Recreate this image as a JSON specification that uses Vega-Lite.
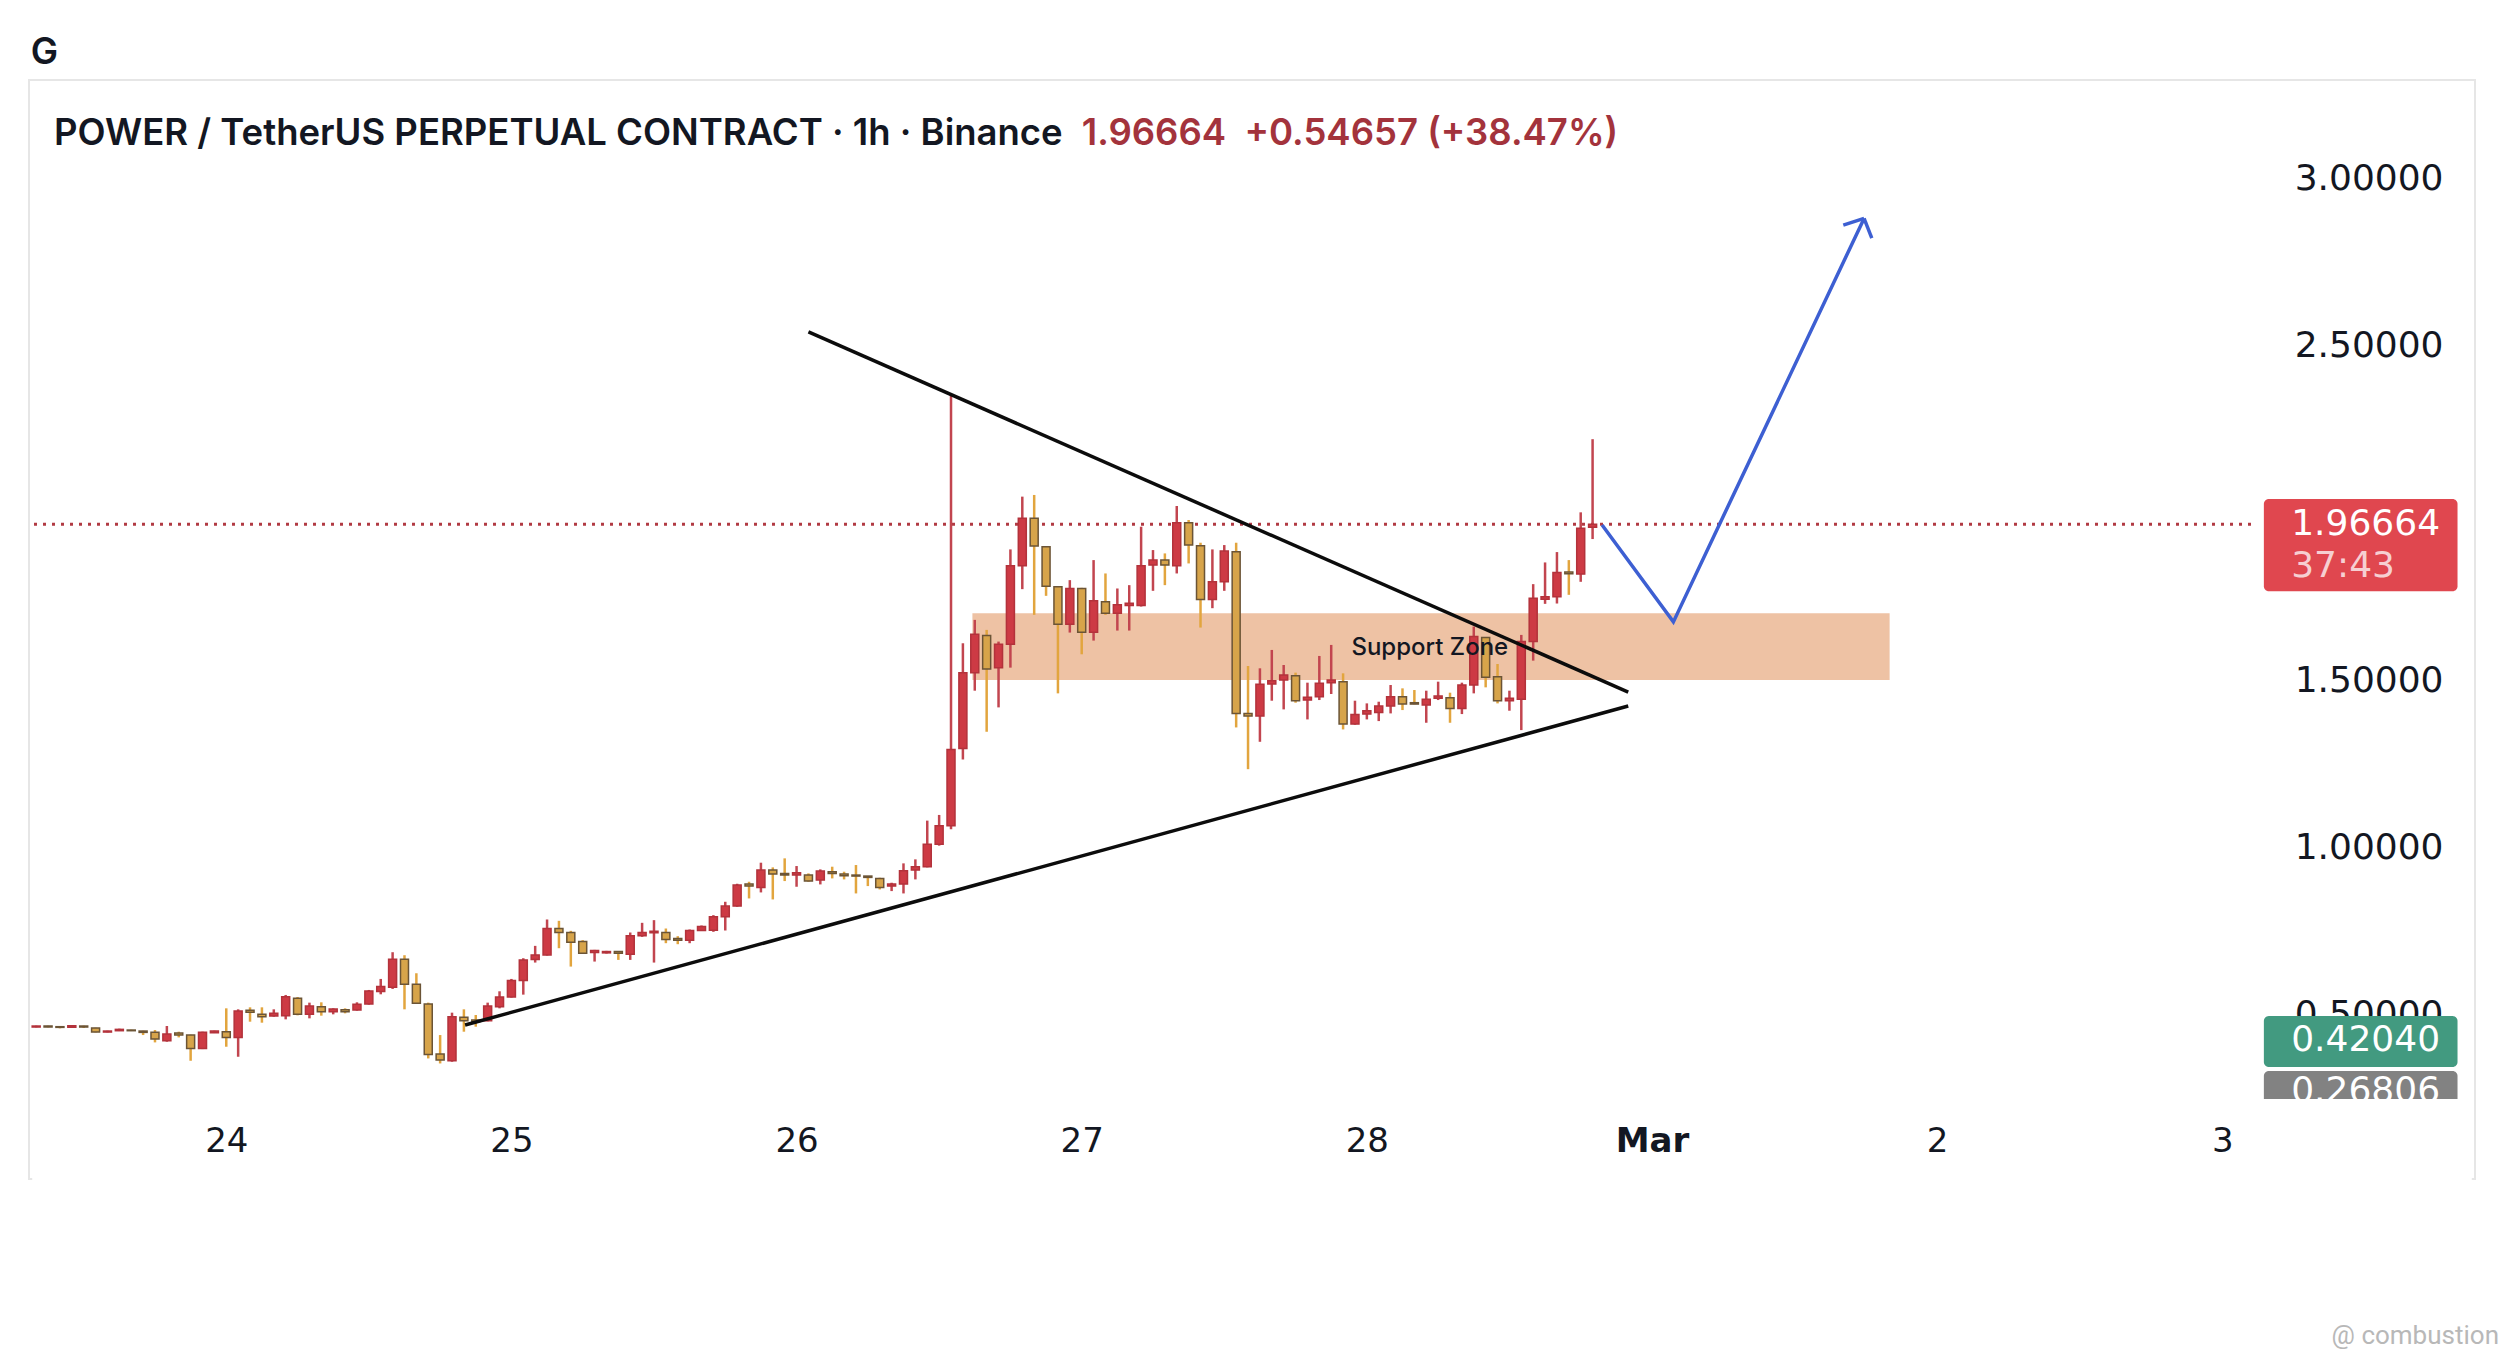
{
  "$schema": "https://vega.github.io/schema/vega-lite/v6.json",
  "width": 2446,
  "height": 1099,
  "autosize": "none",
  "padding": {"left": 29, "top": 80, "right": 27, "bottom": 180},
  "background": "white",
  "config": {
    "view": {"stroke": "#e6e6e6", "strokeWidth": 2},
    "axis": {"labelFont": "DejaVu Sans", "labelColor": "#131722", "grid": false, "ticks": false, "domain": false}
  },
  "datasets": {
    "candles": [
      {"t":"2025-02-23T08:00Z","o":0.461,"h":0.465,"l":0.460,"c":0.464},
      {"t":"2025-02-23T09:00Z","o":0.464,"h":0.465,"l":0.460,"c":0.461},
      {"t":"2025-02-23T10:00Z","o":0.462,"h":0.463,"l":0.457,"c":0.460},
      {"t":"2025-02-23T11:00Z","o":0.460,"h":0.467,"l":0.459,"c":0.465},
      {"t":"2025-02-23T12:00Z","o":0.464,"h":0.465,"l":0.458,"c":0.461},
      {"t":"2025-02-23T13:00Z","o":0.458,"h":0.459,"l":0.445,"c":0.446},
      {"t":"2025-02-23T14:00Z","o":0.446,"h":0.450,"l":0.445,"c":0.449},
      {"t":"2025-02-23T15:00Z","o":0.450,"h":0.456,"l":0.449,"c":0.454},
      {"t":"2025-02-23T16:00Z","o":0.452,"h":0.453,"l":0.449,"c":0.450},
      {"t":"2025-02-23T17:00Z","o":0.449,"h":0.450,"l":0.437,"c":0.445},
      {"t":"2025-02-23T18:00Z","o":0.445,"h":0.452,"l":0.415,"c":0.425},
      {"t":"2025-02-23T19:00Z","o":0.420,"h":0.464,"l":0.417,"c":0.440},
      {"t":"2025-02-23T20:00Z","o":0.443,"h":0.447,"l":0.430,"c":0.437},
      {"t":"2025-02-23T21:00Z","o":0.437,"h":0.438,"l":0.360,"c":0.397},
      {"t":"2025-02-23T22:00Z","o":0.397,"h":0.447,"l":0.395,"c":0.445},
      {"t":"2025-02-23T23:00Z","o":0.444,"h":0.450,"l":0.443,"c":0.449},
      {"t":"2025-02-24T00:00Z","o":0.447,"h":0.517,"l":0.402,"c":0.430},
      {"t":"2025-02-24T01:00Z","o":0.430,"h":0.514,"l":0.372,"c":0.509},
      {"t":"2025-02-24T02:00Z","o":0.511,"h":0.520,"l":0.477,"c":0.505},
      {"t":"2025-02-24T03:00Z","o":0.499,"h":0.520,"l":0.474,"c":0.492},
      {"t":"2025-02-24T04:00Z","o":0.494,"h":0.514,"l":0.492,"c":0.502},
      {"t":"2025-02-24T05:00Z","o":0.495,"h":0.557,"l":0.484,"c":0.552},
      {"t":"2025-02-24T06:00Z","o":0.547,"h":0.551,"l":0.496,"c":0.499},
      {"t":"2025-02-24T07:00Z","o":0.499,"h":0.534,"l":0.487,"c":0.524},
      {"t":"2025-02-24T08:00Z","o":0.522,"h":0.535,"l":0.495,"c":0.507},
      {"t":"2025-02-24T09:00Z","o":0.507,"h":0.517,"l":0.499,"c":0.515},
      {"t":"2025-02-24T10:00Z","o":0.513,"h":0.517,"l":0.502,"c":0.507},
      {"t":"2025-02-24T11:00Z","o":0.512,"h":0.535,"l":0.510,"c":0.529},
      {"t":"2025-02-24T12:00Z","o":0.530,"h":0.572,"l":0.528,"c":0.569},
      {"t":"2025-02-24T13:00Z","o":0.567,"h":0.605,"l":0.559,"c":0.582},
      {"t":"2025-02-24T14:00Z","o":0.580,"h":0.685,"l":0.575,"c":0.664},
      {"t":"2025-02-24T15:00Z","o":0.664,"h":0.676,"l":0.514,"c":0.589},
      {"t":"2025-02-24T16:00Z","o":0.589,"h":0.622,"l":0.530,"c":0.532},
      {"t":"2025-02-24T17:00Z","o":0.530,"h":0.534,"l":0.367,"c":0.379},
      {"t":"2025-02-24T18:00Z","o":0.380,"h":0.437,"l":0.352,"c":0.362},
      {"t":"2025-02-24T19:00Z","o":0.360,"h":0.504,"l":0.357,"c":0.492},
      {"t":"2025-02-24T20:00Z","o":0.490,"h":0.514,"l":0.447,"c":0.480},
      {"t":"2025-02-24T21:00Z","o":0.482,"h":0.497,"l":0.462,"c":0.477},
      {"t":"2025-02-24T22:00Z","o":0.480,"h":0.534,"l":0.478,"c":0.524},
      {"t":"2025-02-24T23:00Z","o":0.522,"h":0.568,"l":0.517,"c":0.551},
      {"t":"2025-02-25T00:00Z","o":0.551,"h":0.605,"l":0.549,"c":0.600},
      {"t":"2025-02-25T01:00Z","o":0.600,"h":0.667,"l":0.558,"c":0.662},
      {"t":"2025-02-25T02:00Z","o":0.663,"h":0.704,"l":0.654,"c":0.677},
      {"t":"2025-02-25T03:00Z","o":0.677,"h":0.783,"l":0.675,"c":0.756},
      {"t":"2025-02-25T04:00Z","o":0.756,"h":0.779,"l":0.697,"c":0.744},
      {"t":"2025-02-25T05:00Z","o":0.744,"h":0.749,"l":0.642,"c":0.715},
      {"t":"2025-02-25T06:00Z","o":0.717,"h":0.721,"l":0.680,"c":0.682},
      {"t":"2025-02-25T07:00Z","o":0.684,"h":0.692,"l":0.657,"c":0.690},
      {"t":"2025-02-25T08:00Z","o":0.683,"h":0.689,"l":0.681,"c":0.687},
      {"t":"2025-02-25T09:00Z","o":0.687,"h":0.688,"l":0.662,"c":0.682},
      {"t":"2025-02-25T10:00Z","o":0.679,"h":0.744,"l":0.662,"c":0.734},
      {"t":"2025-02-25T11:00Z","o":0.734,"h":0.773,"l":0.731,"c":0.744},
      {"t":"2025-02-25T12:00Z","o":0.743,"h":0.781,"l":0.654,"c":0.748},
      {"t":"2025-02-25T13:00Z","o":0.744,"h":0.756,"l":0.712,"c":0.723},
      {"t":"2025-02-25T14:00Z","o":0.726,"h":0.733,"l":0.709,"c":0.721},
      {"t":"2025-02-25T15:00Z","o":0.721,"h":0.753,"l":0.712,"c":0.750},
      {"t":"2025-02-25T16:00Z","o":0.750,"h":0.765,"l":0.749,"c":0.762},
      {"t":"2025-02-25T17:00Z","o":0.751,"h":0.796,"l":0.746,"c":0.791},
      {"t":"2025-02-25T18:00Z","o":0.791,"h":0.836,"l":0.750,"c":0.823},
      {"t":"2025-02-25T19:00Z","o":0.823,"h":0.890,"l":0.821,"c":0.886},
      {"t":"2025-02-25T20:00Z","o":0.889,"h":0.896,"l":0.846,"c":0.883},
      {"t":"2025-02-25T21:00Z","o":0.879,"h":0.953,"l":0.864,"c":0.931},
      {"t":"2025-02-25T22:00Z","o":0.931,"h":0.939,"l":0.843,"c":0.919},
      {"t":"2025-02-25T23:00Z","o":0.921,"h":0.966,"l":0.898,"c":0.916},
      {"t":"2025-02-26T00:00Z","o":0.916,"h":0.943,"l":0.881,"c":0.923},
      {"t":"2025-02-26T01:00Z","o":0.916,"h":0.921,"l":0.896,"c":0.898},
      {"t":"2025-02-26T02:00Z","o":0.901,"h":0.933,"l":0.888,"c":0.928},
      {"t":"2025-02-26T03:00Z","o":0.926,"h":0.941,"l":0.906,"c":0.921},
      {"t":"2025-02-26T04:00Z","o":0.919,"h":0.926,"l":0.903,"c":0.914},
      {"t":"2025-02-26T05:00Z","o":0.916,"h":0.946,"l":0.861,"c":0.913},
      {"t":"2025-02-26T06:00Z","o":0.913,"h":0.913,"l":0.883,"c":0.909},
      {"t":"2025-02-26T07:00Z","o":0.906,"h":0.908,"l":0.873,"c":0.879},
      {"t":"2025-02-26T08:00Z","o":0.883,"h":0.893,"l":0.868,"c":0.889},
      {"t":"2025-02-26T09:00Z","o":0.889,"h":0.951,"l":0.861,"c":0.929},
      {"t":"2025-02-26T10:00Z","o":0.931,"h":0.963,"l":0.903,"c":0.941},
      {"t":"2025-02-26T11:00Z","o":0.941,"h":1.079,"l":0.939,"c":1.008},
      {"t":"2025-02-26T12:00Z","o":1.008,"h":1.096,"l":1.004,"c":1.064},
      {"t":"2025-02-26T13:00Z","o":1.064,"h":2.353,"l":1.053,"c":1.292},
      {"t":"2025-02-26T14:00Z","o":1.295,"h":1.610,"l":1.262,"c":1.522},
      {"t":"2025-02-26T15:00Z","o":1.522,"h":1.680,"l":1.468,"c":1.637},
      {"t":"2025-02-26T16:00Z","o":1.633,"h":1.650,"l":1.345,"c":1.533},
      {"t":"2025-02-26T17:00Z","o":1.537,"h":1.615,"l":1.418,"c":1.607},
      {"t":"2025-02-26T18:00Z","o":1.607,"h":1.891,"l":1.537,"c":1.842},
      {"t":"2025-02-26T19:00Z","o":1.842,"h":2.049,"l":1.772,"c":1.984},
      {"t":"2025-02-26T20:00Z","o":1.984,"h":2.054,"l":1.695,"c":1.901},
      {"t":"2025-02-26T21:00Z","o":1.899,"h":1.901,"l":1.752,"c":1.781},
      {"t":"2025-02-26T22:00Z","o":1.779,"h":1.781,"l":1.460,"c":1.667},
      {"t":"2025-02-26T23:00Z","o":1.667,"h":1.799,"l":1.642,"c":1.774},
      {"t":"2025-02-27T00:00Z","o":1.774,"h":1.776,"l":1.577,"c":1.643},
      {"t":"2025-02-27T01:00Z","o":1.643,"h":1.859,"l":1.618,"c":1.737},
      {"t":"2025-02-27T02:00Z","o":1.734,"h":1.819,"l":1.695,"c":1.700},
      {"t":"2025-02-27T03:00Z","o":1.700,"h":1.774,"l":1.648,"c":1.725},
      {"t":"2025-02-27T04:00Z","o":1.723,"h":1.784,"l":1.648,"c":1.730},
      {"t":"2025-02-27T05:00Z","o":1.723,"h":1.959,"l":1.720,"c":1.842},
      {"t":"2025-02-27T06:00Z","o":1.844,"h":1.889,"l":1.767,"c":1.859},
      {"t":"2025-02-27T07:00Z","o":1.859,"h":1.879,"l":1.784,"c":1.844},
      {"t":"2025-02-27T08:00Z","o":1.842,"h":2.021,"l":1.819,"c":1.971},
      {"t":"2025-02-27T09:00Z","o":1.971,"h":1.979,"l":1.849,"c":1.904},
      {"t":"2025-02-27T10:00Z","o":1.902,"h":1.911,"l":1.657,"c":1.741},
      {"t":"2025-02-27T11:00Z","o":1.741,"h":1.891,"l":1.715,"c":1.794},
      {"t":"2025-02-27T12:00Z","o":1.794,"h":1.904,"l":1.767,"c":1.886},
      {"t":"2025-02-27T13:00Z","o":1.884,"h":1.911,"l":1.358,"c":1.400},
      {"t":"2025-02-27T14:00Z","o":1.400,"h":1.542,"l":1.233,"c":1.392},
      {"t":"2025-02-27T15:00Z","o":1.392,"h":1.535,"l":1.315,"c":1.487},
      {"t":"2025-02-27T16:00Z","o":1.488,"h":1.590,"l":1.438,"c":1.498},
      {"t":"2025-02-27T17:00Z","o":1.500,"h":1.545,"l":1.412,"c":1.515},
      {"t":"2025-02-27T18:00Z","o":1.513,"h":1.522,"l":1.432,"c":1.438},
      {"t":"2025-02-27T19:00Z","o":1.440,"h":1.492,"l":1.382,"c":1.448},
      {"t":"2025-02-27T20:00Z","o":1.450,"h":1.572,"l":1.440,"c":1.490},
      {"t":"2025-02-27T21:00Z","o":1.492,"h":1.605,"l":1.458,"c":1.500},
      {"t":"2025-02-27T22:00Z","o":1.495,"h":1.520,"l":1.352,"c":1.368},
      {"t":"2025-02-27T23:00Z","o":1.368,"h":1.438,"l":1.366,"c":1.397},
      {"t":"2025-02-28T00:00Z","o":1.398,"h":1.430,"l":1.382,"c":1.408},
      {"t":"2025-02-28T01:00Z","o":1.403,"h":1.435,"l":1.377,"c":1.422},
      {"t":"2025-02-28T02:00Z","o":1.422,"h":1.485,"l":1.400,"c":1.450},
      {"t":"2025-02-28T03:00Z","o":1.450,"h":1.475,"l":1.410,"c":1.428},
      {"t":"2025-02-28T04:00Z","o":1.432,"h":1.470,"l":1.427,"c":1.428},
      {"t":"2025-02-28T05:00Z","o":1.425,"h":1.468,"l":1.372,"c":1.442},
      {"t":"2025-02-28T06:00Z","o":1.445,"h":1.495,"l":1.440,"c":1.452},
      {"t":"2025-02-28T07:00Z","o":1.447,"h":1.462,"l":1.372,"c":1.415},
      {"t":"2025-02-28T08:00Z","o":1.415,"h":1.492,"l":1.398,"c":1.485},
      {"t":"2025-02-28T09:00Z","o":1.485,"h":1.660,"l":1.460,"c":1.630},
      {"t":"2025-02-28T10:00Z","o":1.627,"h":1.628,"l":1.478,"c":1.508},
      {"t":"2025-02-28T11:00Z","o":1.510,"h":1.548,"l":1.430,"c":1.438},
      {"t":"2025-02-28T12:00Z","o":1.438,"h":1.468,"l":1.408,"c":1.445},
      {"t":"2025-02-28T13:00Z","o":1.442,"h":1.635,"l":1.350,"c":1.615},
      {"t":"2025-02-28T14:00Z","o":1.615,"h":1.787,"l":1.558,"c":1.745},
      {"t":"2025-02-28T15:00Z","o":1.742,"h":1.852,"l":1.728,"c":1.749},
      {"t":"2025-02-28T16:00Z","o":1.749,"h":1.883,"l":1.729,"c":1.822},
      {"t":"2025-02-28T17:00Z","o":1.823,"h":1.859,"l":1.755,"c":1.818},
      {"t":"2025-02-28T18:00Z","o":1.817,"h":2.002,"l":1.794,"c":1.954},
      {"t":"2025-02-28T19:00Z","o":1.957,"h":2.221,"l":1.922,"c":1.96664}
    ],
    "zone": [{"t1":"2025-02-26T14:48Z","t2":"2025-03-01T20:00Z","lo":1.5,"hi":1.7}],
    "last": [{"t1":"2025-02-23T07:49Z","t2":"2025-03-03T02:54Z","p":1.96664}],
    "lines": [
      {"id":"down","kind":"trend","t":"2025-02-26T01:00Z","v":2.542},
      {"id":"down","kind":"trend","t":"2025-02-28T22:00Z","v":1.464},
      {"id":"up","kind":"trend","t":"2025-02-24T20:06Z","v":0.467},
      {"id":"up","kind":"trend","t":"2025-02-28T22:00Z","v":1.422},
      {"id":"path","kind":"proj","t":"2025-02-28T19:48Z","v":1.964},
      {"id":"path","kind":"proj","t":"2025-03-01T01:48Z","v":1.674},
      {"id":"path","kind":"proj","t":"2025-03-01T17:51Z","v":2.882},
      {"id":"head1","kind":"proj","t":"2025-03-01T16:06Z","v":2.862},
      {"id":"head1","kind":"proj","t":"2025-03-01T17:51Z","v":2.882},
      {"id":"head2","kind":"proj","t":"2025-03-01T17:51Z","v":2.882},
      {"id":"head2","kind":"proj","t":"2025-03-01T18:30Z","v":2.823}
    ],
    "boxes": [
      {"kind":"last","t1":"2025-03-03T03:30Z","t2":"2025-03-03T19:48Z","lo":1.766,"hi":2.042},
      {"kind":"prev","t1":"2025-03-03T03:30Z","t2":"2025-03-03T19:48Z","lo":0.341,"hi":0.494},
      {"kind":"low","t1":"2025-03-03T03:30Z","t2":"2025-03-03T19:48Z","lo":0.2,"hi":0.329}
    ],
    "boxtext": [
      {"t":"2025-03-03T05:48Z","v":1.966,"txt":"1.96664"},
      {"t":"2025-03-03T05:48Z","v":1.842,"txt":"37:43"},
      {"t":"2025-03-03T05:48Z","v":0.421,"txt":"0.42040"},
      {"t":"2025-03-03T05:48Z","v":0.268,"txt":"0.26806"}
    ],
    "mask": [{"t1":"2025-02-23T07:40Z","t2":"2025-03-03T21:00Z","lo":0.0,"hi":0.2455}],
    "notes": [
      {"kind":"g","t":"2025-02-23T07:32Z","v":3.377,"txt":"G"},
      {"kind":"title","t":"2025-02-23T09:30Z","v":3.135,"txt":"POWER / TetherUS PERPETUAL CONTRACT · 1h · Binance"},
      {"kind":"price","t":"2025-02-27T00:00Z","v":3.135,"txt":"1.96664\u00a0\u00a0+0.54657 (+38.47%)"},
      {"kind":"zone","t":"2025-02-28T05:18Z","v":1.596,"txt":"Support Zone"},
      {"kind":"mark","t":"2025-03-03T09:12Z","v":-0.464,"txt":"@ combustion"}
    ]
  },
  "layer": [
    {
      "data": {"name": "zone"},
      "mark": {"type": "rect", "color": "#eec2a4"},
      "encoding": {
        "x": {"field": "t1", "type": "temporal", "title": null},
        "x2": {"field": "t2"},
        "y": {"field": "lo", "type": "quantitative", "title": null},
        "y2": {"field": "hi"}
      }
    },
    {
      "data": {"name": "last"},
      "mark": {"type": "rule", "strokeDash": [3, 6], "strokeWidth": 3, "color": "#b13a43"},
      "encoding": {
        "x": {"field": "t1", "type": "temporal", "title": null},
        "x2": {"field": "t2"},
        "y": {"field": "p", "type": "quantitative", "title": null}
      }
    },
    {
      "data": {"name": "candles"},
      "mark": {"type": "rule", "strokeWidth": 2.5},
      "encoding": {
        "x": {
          "field": "t", "type": "temporal", "title": null,
          "scale": {
            "type": "utc",
            "domain": [
              {"year": 2025, "month": 2, "date": 23, "hours": 7, "minutes": 49, "utc": true},
              {"year": 2025, "month": 3, "date": 3, "hours": 20, "minutes": 51, "utc": true}
            ]
          },
          "axis": {
            "orient": "bottom",
            "values": [
              {"year": 2025, "month": 2, "date": 24, "utc": true},
              {"year": 2025, "month": 2, "date": 25, "utc": true},
              {"year": 2025, "month": 2, "date": 26, "utc": true},
              {"year": 2025, "month": 2, "date": 27, "utc": true},
              {"year": 2025, "month": 2, "date": 28, "utc": true},
              {"year": 2025, "month": 3, "date": 1, "utc": true},
              {"year": 2025, "month": 3, "date": 2, "utc": true},
              {"year": 2025, "month": 3, "date": 3, "utc": true}
            ],
            "labelExpr": "utcdate(datum.value) == 1 ? utcFormat(datum.value, '%b') : utcFormat(datum.value, '%-d')",
            "labelFontSize": 34,
            "labelFontWeight": {"condition": {"test": "utcdate(datum.value) == 1", "value": "bold"}, "value": "normal"},
            "labelPadding": -38,
            "labelBaseline": "middle",
            "labelFlush": false,
            "labelOverlap": false,
            "zindex": 1
          }
        },
        "y": {
          "field": "l", "type": "quantitative", "title": null,
          "scale": {"domain": [0.006, 3.2964], "nice": false, "zero": false},
          "axis": {
            "orient": "right",
            "values": [0.5, 1, 1.5, 2.5, 3],
            "format": ".5f",
            "labelFontSize": 36,
            "labelAlign": "right",
            "labelBaseline": "middle",
            "labelPadding": -32,
            "labelFlush": false,
            "labelOverlap": false,
            "labelBound": false
          }
        },
        "y2": {"field": "h"},
        "color": {"condition": {"test": "datum.c >= datum.o", "value": "#c2454f"}, "value": "#e2a53e"}
      }
    },
    {
      "data": {"name": "candles"},
      "mark": {"type": "bar", "size": 8, "strokeWidth": 1.5},
      "encoding": {
        "x": {"field": "t", "type": "temporal", "title": null},
        "y": {"field": "o", "type": "quantitative", "title": null},
        "y2": {"field": "c"},
        "fill": {"condition": {"test": "datum.c >= datum.o", "value": "#cd3a44"}, "value": "#d7a44a"},
        "stroke": {"condition": {"test": "datum.c >= datum.o", "value": "#b3323b"}, "value": "#6b5436"}
      }
    },
    {
      "data": {"name": "lines"},
      "transform": [{"filter": "datum.kind == 'trend'"}],
      "mark": {"type": "line", "strokeWidth": 3.5, "color": "#0c0c0c"},
      "encoding": {
        "x": {"field": "t", "type": "temporal", "title": null},
        "y": {"field": "v", "type": "quantitative", "title": null},
        "detail": {"field": "id"}
      }
    },
    {
      "data": {"name": "lines"},
      "transform": [{"filter": "datum.kind == 'proj'"}],
      "mark": {"type": "line", "strokeWidth": 3.5, "color": "#3d5fd2"},
      "encoding": {
        "x": {"field": "t", "type": "temporal", "title": null},
        "y": {"field": "v", "type": "quantitative", "title": null},
        "detail": {"field": "id"}
      }
    },
    {
      "data": {"name": "notes"},
      "transform": [{"filter": "datum.kind == 'zone'"}],
      "mark": {"type": "text", "font": "Inter", "fontSize": 24, "fontWeight": 500, "color": "#131722", "align": "center", "baseline": "middle"},
      "encoding": {
        "x": {"field": "t", "type": "temporal", "title": null},
        "y": {"field": "v", "type": "quantitative", "title": null},
        "text": {"field": "txt"}
      }
    },
    {
      "data": {"name": "boxes"},
      "mark": {"type": "rect", "cornerRadius": 5},
      "encoding": {
        "x": {"field": "t1", "type": "temporal", "title": null},
        "x2": {"field": "t2"},
        "y": {"field": "lo", "type": "quantitative", "title": null},
        "y2": {"field": "hi"},
        "color": {
          "field": "kind", "type": "nominal", "legend": null,
          "scale": {"domain": ["last", "prev", "low"], "range": ["#e0474f", "#429a80", "#828282"]}
        }
      }
    },
    {
      "data": {"name": "boxtext"},
      "mark": {"type": "text", "font": "DejaVu Sans", "fontSize": 36, "align": "left", "baseline": "middle"},
      "encoding": {
        "x": {"field": "t", "type": "temporal", "title": null},
        "y": {"field": "v", "type": "quantitative", "title": null},
        "text": {"field": "txt"},
        "color": {"condition": {"test": "datum.txt == '37:43'", "value": "#f6cfd2"}, "value": "#ffffff"}
      }
    },
    {
      "data": {"name": "mask"},
      "mark": {"type": "rect", "color": "white"},
      "encoding": {
        "x": {"field": "t1", "type": "temporal", "title": null},
        "x2": {"field": "t2"},
        "y": {"field": "lo", "type": "quantitative", "title": null},
        "y2": {"field": "hi"}
      }
    },
    {
      "data": {"name": "notes"},
      "transform": [{"filter": "datum.kind == 'title' || datum.kind == 'g'"}],
      "mark": {"type": "text", "font": "Inter", "fontSize": 36.5, "fontWeight": 600, "color": "#131722", "align": "left", "baseline": "middle"},
      "encoding": {
        "x": {"field": "t", "type": "temporal", "title": null},
        "y": {"field": "v", "type": "quantitative", "title": null},
        "text": {"field": "txt"}
      }
    },
    {
      "data": {"name": "notes"},
      "transform": [{"filter": "datum.kind == 'price'"}],
      "mark": {"type": "text", "font": "Inter", "fontSize": 36.5, "fontWeight": 600, "color": "#a3333c", "align": "left", "baseline": "middle"},
      "encoding": {
        "x": {"field": "t", "type": "temporal", "title": null},
        "y": {"field": "v", "type": "quantitative", "title": null},
        "text": {"field": "txt"}
      }
    },
    {
      "data": {"name": "notes"},
      "transform": [{"filter": "datum.kind == 'mark'"}],
      "mark": {"type": "text", "font": "Roboto", "fontSize": 26, "color": "#b8b8b8", "align": "left", "baseline": "middle"},
      "encoding": {
        "x": {"field": "t", "type": "temporal", "title": null},
        "y": {"field": "v", "type": "quantitative", "title": null},
        "text": {"field": "txt"}
      }
    }
  ]
}
